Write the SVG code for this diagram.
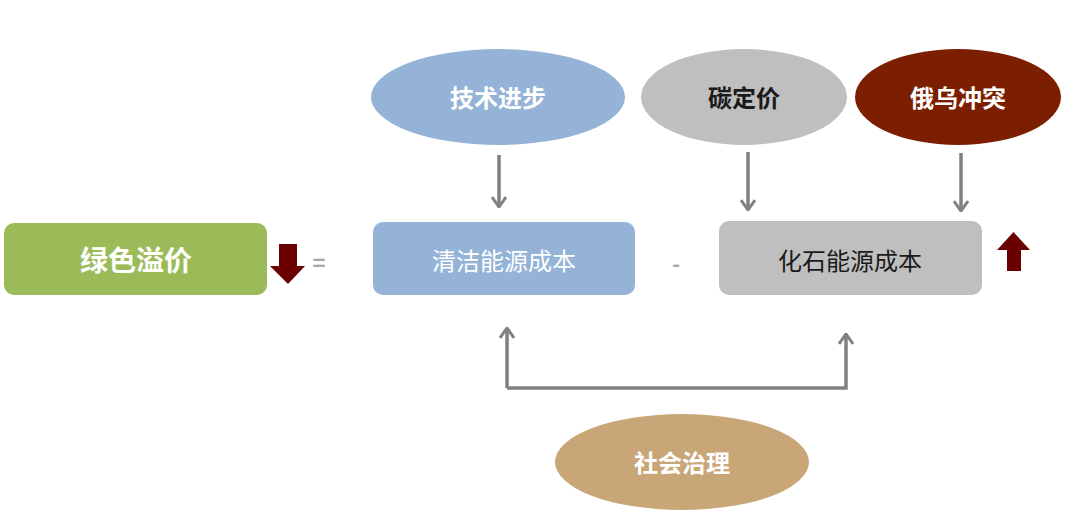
<svg xmlns="http://www.w3.org/2000/svg" width="1080" height="523" viewBox="0 0 1080 523">
<defs>
<marker id="ah" viewBox="0 0 12 16" refX="11" refY="8" markerWidth="12" markerHeight="16" markerUnits="userSpaceOnUse" orient="auto">
<path d="M1,1 L11,8 L1,15" fill="none" stroke="#808080" stroke-width="3"/>
</marker>
</defs>
<style>
text{font-family:"Noto Sans CJK SC","Liberation Sans",sans-serif;text-anchor:middle;dominant-baseline:central}
.t{font-size:24px}
.b{font-size:24px;font-weight:bold}
.c{fill:none;stroke:#808080;stroke-width:3.5}
.op{fill:#A6A6A6;font-size:22px;font-weight:bold}
</style>
<rect width="1080" height="523" fill="#fff"/>
<g id="green">
<rect x="4" y="223" width="263" height="72" rx="10" fill="#9BBB59"/>
<text x="136" y="259" class="b" style="font-size:28px" fill="#fff">绿色溢价</text>
</g>
<g id="downArrow"><path d="M279,244 H297 V266 H305 L288,284 L270,266 H279 Z" fill="#6B0000"/></g>
<g id="eq"><text x="319" y="261" class="op">=</text></g>
<g id="clean">
<rect x="373" y="222" width="262" height="73" rx="10" fill="#95B3D7"/>
<text x="504" y="259" class="t" fill="#fff">清洁能源成本</text>
</g>
<g id="minus"><text x="676" y="262" class="op">-</text></g>
<g id="fossil">
<rect x="719" y="221" width="263" height="74" rx="10" fill="#BFBFBF"/>
<text x="850" y="259" class="t" fill="#1a1a1a">化石能源成本</text>
</g>
<g id="upArrow"><path d="M1007,271 H1021 V250 H1030 L1013.5,232 L997,250 H1007 Z" fill="#6B0000"/></g>
<g id="tech">
<ellipse cx="498" cy="97" rx="127" ry="48" fill="#95B3D7"/>
<text x="498" y="96" class="b" fill="#fff">技术进步</text>
</g>
<g id="carbon">
<ellipse cx="744" cy="97" rx="103" ry="48" fill="#BFBFBF"/>
<text x="744" y="96" class="b" fill="#1a1a1a">碳定价</text>
</g>
<g id="war">
<ellipse cx="958" cy="97" rx="103" ry="48" fill="#7B1F00"/>
<text x="958" y="96" class="b" fill="#fff">俄乌冲突</text>
</g>
<g id="gov">
<ellipse cx="682" cy="462" rx="127" ry="48" fill="#C9A677"/>
<text x="682" y="461" class="b" fill="#fff">社会治理</text>
</g>
<g id="connectors">
<path class="c" d="M499,155 V207" marker-end="url(#ah)"/>
<path class="c" d="M748,152 V210" marker-end="url(#ah)"/>
<path class="c" d="M961,153 V211" marker-end="url(#ah)"/>
<path class="c" d="M507,388 V328" marker-end="url(#ah)"/>
<path class="c" d="M507,388 H846 V334" marker-end="url(#ah)"/>
</g>
</svg>
